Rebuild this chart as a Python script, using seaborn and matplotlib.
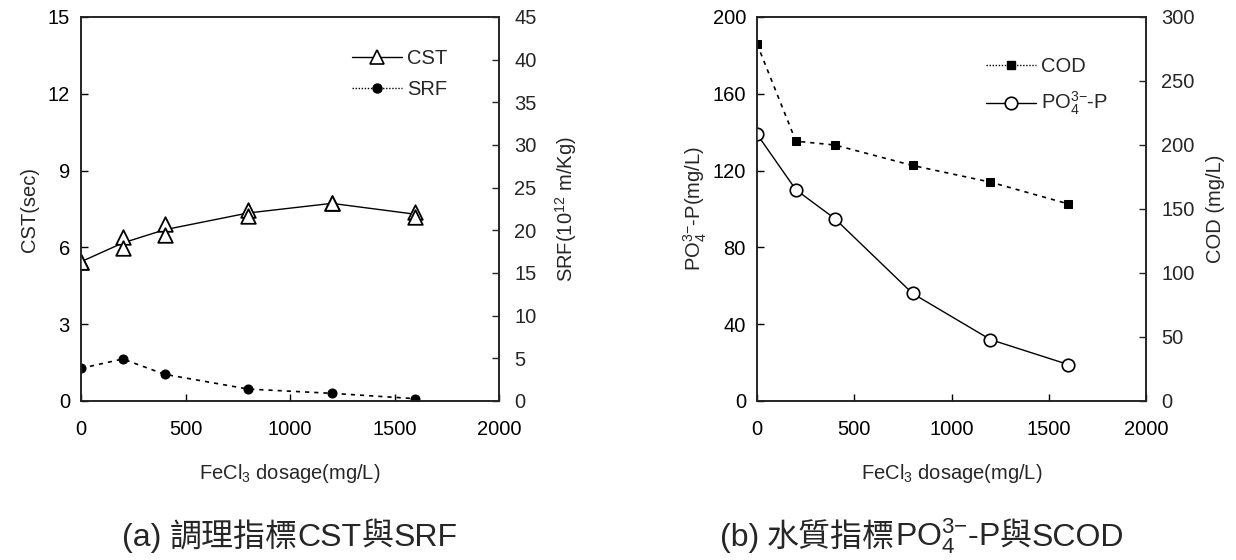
import numpy as np
import pandas as pd
import matplotlib
matplotlib.use("Agg")
import matplotlib.pyplot as plt
from matplotlib.lines import Line2D
import seaborn as sns

# ---------------- data ----------------
dosage = [0, 200, 400, 800, 1200, 1600]
cst_rep1 = [5.44, 6.39, 6.90, 7.46, 7.72, 7.39]
cst_rep2 = [5.44, 5.96, 6.48, 7.23, 7.72, 7.20]
srf = [3.83, 4.92, 3.13, 1.40, 0.90, 0.27]
po4 = [139, 110, 95, 56, 32, 19]
cod = [279, 203, 200, 184, 171, 154]

x_ticks = [0, 500, 1000, 1500, 2000]
cst_ticks = [0, 3, 6, 9, 12, 15]
srf_ticks = [0, 5, 10, 15, 20, 25, 30, 35, 40, 45]
po4_ticks = [0, 40, 80, 120, 160, 200]
cod_ticks = [0, 50, 100, 150, 200, 250, 300]

# ---------------- style ----------------
sns.set_style("ticks")
plt.rcParams["font.family"] = ["Liberation Sans", "Noto Sans CJK TC", "DejaVu Sans"]
plt.rcParams["mathtext.fontset"] = "custom"
plt.rcParams["mathtext.rm"] = "Liberation Sans"
plt.rcParams["mathtext.it"] = "Liberation Sans:italic"
plt.rcParams["mathtext.bf"] = "Liberation Sans:bold"
plt.rcParams["axes.linewidth"] = 1.1

FS = 14.5
W, H = 1236, 560
fig = plt.figure(figsize=(W / 100, H / 100), dpi=100)

def px_axes(x0, x1, y0, y1):
    return fig.add_axes([x0 / W, 1 - y1 / H, (x1 - x0) / W, (y1 - y0) / H])

axA = px_axes(81, 499, 17, 401)
axB = px_axes(757, 1146, 17, 401)

def style_axis(ax, left_pad=8.0):
    ax.tick_params(axis="both", direction="in", length=5, width=1.0,
                   labelsize=FS, colors="black")
    ax.tick_params(axis="x", pad=14)
    ax.tick_params(axis="y", pad=left_pad)
    for s in ax.spines.values():
        s.set_visible(True)
        s.set_color("black")

# ---------------- panel (a) ----------------
df_cst = pd.DataFrame({"x": dosage * 2, "y": cst_rep1 + cst_rep2})
df_srf = pd.DataFrame({"x": dosage, "y": srf})

sns.lineplot(data=df_cst, x="x", y="y", errorbar=None, color="black",
             lw=1.0, ax=axA, legend=False)
sns.scatterplot(data=df_cst, x="x", y="y", marker="^", s=110,
                facecolor="white", edgecolor="black", linewidth=1.3,
                ax=axA, legend=False, zorder=5)
axA.set_xlim(0, 2000)
axA.set_ylim(0, 15)
axA.set_xticks(x_ticks)
axA.set_yticks(cst_ticks)
axA.set_xlabel("FeCl$_3$ dosage(mg/L)", fontsize=FS)
axA.set_ylabel("CST(sec)", fontsize=FS)
style_axis(axA)

axA2 = axA.twinx()
sns.lineplot(data=df_srf, x="x", y="y", color="black", lw=1.2,
             linestyle=(0, (2.5, 3)), marker="o", markersize=6.5,
             markerfacecolor="black", markeredgecolor="black",
             ax=axA2, legend=False)
axA2.set_ylim(0, 45)
axA2.set_yticks(srf_ticks)
axA2.set_ylabel("SRF(10$^{12}$ m/Kg)", fontsize=FS)
axA2.tick_params(axis="y", direction="in", length=5, width=1.0,
                 labelsize=FS, pad=11)
axA2.set_xlim(0, 2000)

axA.yaxis.set_label_coords(-0.10, 0.5)
axA2.yaxis.set_label_coords(1.13, 0.5)
axA.xaxis.set_label_coords(0.5, -0.16)

hA = [Line2D([], [], color="black", lw=1.0, marker="^", markersize=10,
             markerfacecolor="white", markeredgecolor="black", markeredgewidth=1.2),
      Line2D([], [], color="black", lw=1.0, linestyle=(0, (1, 1.2)), marker="o",
             markersize=6.5, markerfacecolor="black")]
axA.legend(hA, ["CST", "SRF"], loc="upper left", frameon=False,
           bbox_to_anchor=(352 / W, 1 - 49 / H), bbox_transform=fig.transFigure,
           fontsize=FS, handlelength=2.5, handletextpad=0.25, labelspacing=0.6,
           borderpad=0, borderaxespad=0)

# ---------------- panel (b) ----------------
df_po4 = pd.DataFrame({"x": dosage, "y": po4})
df_cod = pd.DataFrame({"x": dosage, "y": cod})

sns.lineplot(data=df_po4, x="x", y="y", color="black", lw=1.0,
             marker="o", markersize=9, markerfacecolor="white",
             markeredgecolor="black", markeredgewidth=1.2, ax=axB,
             legend=False, zorder=4)
axB.set_xlim(0, 2000)
axB.set_ylim(0, 200)
axB.set_xticks(x_ticks)
axB.set_yticks(po4_ticks)
axB.set_xlabel("FeCl$_3$ dosage(mg/L)", fontsize=FS)
axB.set_ylabel("PO$_4^{3\\mathrm{-}}$-P(mg/L)", fontsize=FS)
style_axis(axB)

axB2 = axB.twinx()
sns.lineplot(data=df_cod, x="x", y="y", color="black", lw=1.2,
             linestyle=(0, (2.5, 3)), marker="s", markersize=6,
             markerfacecolor="black", markeredgecolor="black",
             ax=axB2, legend=False)
axB2.set_ylim(0, 300)
axB2.set_yticks(cod_ticks)
axB2.set_ylabel("COD (mg/L)", fontsize=FS)
axB2.tick_params(axis="y", direction="in", length=5, width=1.0,
                 labelsize=FS, pad=11)
axB2.set_xlim(0, 2000)

axB.yaxis.set_label_coords(-0.123, 0.5)
axB2.yaxis.set_label_coords(1.155, 0.5)
axB.xaxis.set_label_coords(0.5, -0.16)

hB = [Line2D([], [], color="black", lw=1.0, linestyle=(0, (1, 1.2)), marker="s",
             markersize=6, markerfacecolor="black"),
      Line2D([], [], color="black", lw=1.0, marker="o", markersize=9,
             markerfacecolor="white", markeredgecolor="black", markeredgewidth=1.2)]
axB.legend(hB, ["COD", "PO$_4^{3\\mathrm{-}}$-P"], loc="upper left", frameon=False,
           bbox_to_anchor=(986 / W, 1 - 57 / H), bbox_transform=fig.transFigure,
           fontsize=FS, handlelength=2.5, handletextpad=0.25, labelspacing=0.7,
           borderpad=0, borderaxespad=0)

# ---------------- captions ----------------
LAT = ["Liberation Sans", "DejaVu Sans"]
CJK = ["Noto Sans CJK TC", "DejaVu Sans"]
CAP = 23

def caption(xc_px, base_px, pieces):
    renderer = fig.canvas.get_renderer()
    texts, widths = [], []
    for s, fam, gap in pieces:
        t = fig.text(0, 1 - base_px / H, s, fontsize=CAP, family=fam,
                     va="baseline", ha="left")
        texts.append((t, gap))
        widths.append(t.get_window_extent(renderer).width + gap)
    x = xc_px - sum(widths) / 2
    for (t, gap), w in zip(texts, widths):
        t.set_x(x / W)
        x += w

caption(290, 546, [("(a)", LAT, 8), ("調理指標", CJK, 0), ("CST", LAT, 0),
                   ("與", CJK, 0), ("SRF", LAT, 0)])
caption(922, 546, [("(b)", LAT, 8), ("水質指標", CJK, 0),
                   ("PO$_4^{3\\mathrm{-}}$-P", LAT, 0), ("與", CJK, 0),
                   ("SCOD", LAT, 0)])

fig.savefig("out.png", dpi=100)
